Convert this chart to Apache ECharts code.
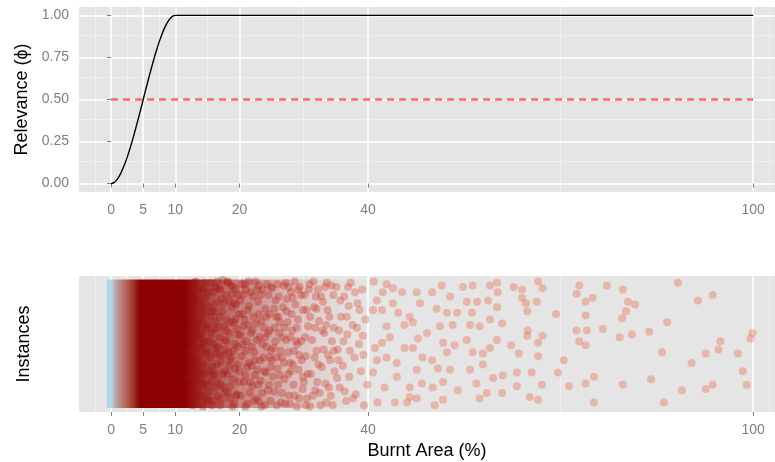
<!DOCTYPE html>
<html>
<head>
<meta charset="utf-8">
<script src="https://cdn.jsdelivr.net/npm/echarts@6/dist/echarts.min.js"></script>
<style>html,body{margin:0;padding:0;background:#fff}#c{width:775px;height:462px}</style>
</head>
<body>
<div id="c"></div>
<script>
// ---------------- data ----------------
const xTickValues = [0, 5, 10, 20, 40, 100];
const xMinorValues = [-2.5, 2.5, 7.5, 15, 30, 70, 102.5];
const yTickValues = [0, 0.25, 0.5, 0.75, 1];
const yMinorValues = [0.125, 0.375, 0.625, 0.875];

// relevance curve (phi)
const curveX = [0, 0.5, 1, 1.5, 2, 2.5, 3, 3.5, 4, 4.5, 5, 5.5, 6, 6.5, 7, 7.5, 8, 8.5, 9, 9.5, 10, 100];
const curveY = [0, 0.007, 0.028, 0.061, 0.104, 0.156, 0.216, 0.282, 0.352, 0.425, 0.5, 0.575, 0.648, 0.718, 0.784, 0.844, 0.896, 0.939, 0.972, 0.993, 1, 1];

// threshold line
const thresholdX = [0, 100];
const thresholdY = 0.5;

// dense overplotted region of instances: x positions and relative density
const bandX = [-0.65, 0.05, 0.8, 2.2, 3.6, 4.5, 11.5, 13, 15, 17, 19.5, 22, 25, 28, 32, 36, 40];
const bandDensity = [1, 1, 1, 1, 1, 1, 1, 0.9, 0.72, 0.6, 0.5, 0.4, 0.3, 0.2, 0.1, 0.04, 0];
const bandYRange = [0.03, 0.975];

// individual instances (burnt area %, jitter)
const instances = [
[12.1,0.93],[12.4,0.71],[12.2,0.45],[12.6,0.18],[12.9,0.86],[13.1,0.55],[12.8,0.32],[13.3,0.07],[13.5,0.64],[13.7,0.90],
[13.4,0.40],[13.9,0.24],[14.1,0.78],[14.3,0.50],[14.0,0.12],[14.6,0.95],[14.4,0.35],[14.8,0.62],[14.9,0.20],[12.3,0.60],
[12.7,0.05],[13.0,0.80],[13.6,0.15],[13.8,0.47],[14.2,0.68],[14.5,0.28],[14.7,0.84],[12.5,0.38],[13.2,0.96],[14.0,0.58],
[12.0,0.26],[12.9,0.67],[13.5,0.30],[14.3,0.04],[14.8,0.43],[13.1,0.22],[12.4,0.84],[13.9,0.73],[14.6,0.52],[12.8,0.10],
[15.1,0.88],[15.3,0.52],[15.2,0.15],[15.6,0.70],[15.8,0.33],[15.5,0.95],[16.0,0.08],[16.1,0.61],[16.3,0.43],[16.4,0.80],
[16.6,0.22],[16.8,0.91],[16.9,0.55],[17.1,0.37],[17.0,0.05],[17.3,0.74],[17.5,0.18],[17.6,0.63],[17.8,0.46],[17.9,0.86],
[18.1,0.28],[18.2,0.96],[18.4,0.58],[18.5,0.10],[18.7,0.40],[18.8,0.77],[19.0,0.24],[19.1,0.66],[19.3,0.50],[19.4,0.90],
[19.6,0.13],[19.7,0.35],[19.9,0.72],[15.4,0.40],[15.9,0.27],[16.2,0.92],[16.7,0.48],[17.2,0.83],[17.7,0.30],[18.0,0.68],
[18.6,0.19],[19.2,0.06],[19.8,0.57],[15.0,0.64],[15.7,0.05],[16.5,0.35],[17.4,0.97],[18.3,0.44],[18.9,0.87],[19.5,0.79],
[15.2,0.78],[16.0,0.74],[16.6,0.12],[17.7,0.53],[18.4,0.34],[19.0,0.45],[19.6,0.61],[15.9,0.50],[17.1,0.20],[18.7,0.93],
[12.2,0.15],[12.6,0.52],[12.9,0.95],[13.3,0.36],[13.6,0.82],[14.0,0.30],[14.4,0.90],[14.9,0.08],[15.3,0.30],[15.6,0.58],
[15.9,0.88],[16.2,0.18],[16.4,0.47],[16.9,0.70],[17.2,0.10],[17.5,0.42],[17.9,0.60],[18.2,0.14],[18.6,0.66],[19.0,0.92],
[19.3,0.32],[19.7,0.48],[15.1,0.10],[16.1,0.28],[17.0,0.90],[18.0,0.52],[19.1,0.80],[13.0,0.62],[14.7,0.73],[16.7,0.62],
[17.6,0.80],[18.9,0.04],[19.9,0.22],[15.8,0.74],[16.5,0.96],[18.4,0.82],[19.4,0.68],[17.3,0.28],[15.5,0.22],[16.9,0.42],
[12.5,0.75],[13.8,0.55],[14.2,0.20],[15.0,0.45],[16.3,0.66],[17.8,0.15],[18.5,0.38],[19.5,0.12],[18.1,0.95],[19.8,0.86],
[20.1,0.82],[20.3,0.41],[20.2,0.12],[20.6,0.63],[20.8,0.94],[20.9,0.27],[21.1,0.52],[21.3,0.75],[21.2,0.06],[21.5,0.36],
[21.7,0.88],[21.8,0.58],[22.0,0.19],[22.2,0.70],[22.3,0.44],[22.5,0.96],[22.6,0.10],[22.8,0.31],[22.9,0.81],[23.1,0.55],
[23.3,0.23],[23.4,0.67],[23.6,0.90],[23.7,0.40],[23.9,0.05],[24.0,0.76],[24.2,0.48],[24.4,0.16],[24.5,0.86],[24.7,0.60],
[24.9,0.33],[20.5,0.50],[21.0,0.90],[21.6,0.14],[22.1,0.85],[22.7,0.53],[23.2,0.38],[23.8,0.62],[24.3,0.94],[24.8,0.08],
[20.4,0.72],[20.7,0.22],[21.4,0.64],[21.9,0.34],[22.4,0.27],[23.0,0.93],[23.5,0.14],[24.1,0.29],[24.6,0.72],[20.0,0.30],
[21.0,0.45],[22.0,0.60],[23.0,0.08],[24.0,0.55],[24.9,0.45],
[20.2,0.56],[20.5,0.86],[20.9,0.04],[21.2,0.33],[21.5,0.78],[21.9,0.48],[22.2,0.08],[22.6,0.65],[22.9,0.20],[23.3,0.86],
[23.6,0.50],[23.9,0.30],[24.2,0.70],[24.6,0.20],[24.9,0.92],[20.8,0.68],[21.4,0.96],[22.4,0.38],[23.4,0.04],[24.4,0.58],
[21.7,0.22],[23.0,0.72],[24.7,0.40],[20.3,0.94],[22.7,0.90],
[25.1,0.91],[25.3,0.47],[25.4,0.15],[25.7,0.70],[25.9,0.32],[26.1,0.85],[26.2,0.58],[26.5,0.07],[26.6,0.40],[26.8,0.77],
[27.0,0.24],[27.2,0.95],[27.3,0.53],[27.5,0.66],[27.7,0.12],[27.9,0.36],[28.0,0.88],[28.2,0.60],[28.4,0.20],[28.5,0.45],
[28.7,0.79],[28.9,0.04],[29.1,0.68],[29.2,0.31],[29.4,0.92],[29.6,0.52],[29.8,0.17],[25.5,0.62],[25.8,0.05],[26.3,0.27],
[26.9,0.93],[27.6,0.44],[28.1,0.72],[28.6,0.96],[29.3,0.10],[29.9,0.75],[25.0,0.38],[26.0,0.70],[26.7,0.55],[27.4,0.83],
[28.3,0.35],[29.0,0.50],[29.7,0.38],[25.6,0.82],[27.8,0.06],
[25.2,0.26],[25.6,0.52],[25.9,0.94],[26.3,0.66],[26.6,0.14],[26.9,0.36],[27.3,0.74],[27.6,0.28],[27.9,0.55],[28.3,0.84],
[28.6,0.12],[28.9,0.62],[29.3,0.42],[29.6,0.86],[29.9,0.26],[25.4,0.76],[26.4,0.45],[27.1,0.06],[28.0,0.30],[29.1,0.90],
[26.0,0.20],[27.0,0.62],[28.8,0.52],[25.8,0.40],[27.7,0.92],
[30.1,0.86],[30.3,0.41],[30.5,0.10],[30.7,0.63],[30.9,0.94],[31.1,0.28],[31.3,0.53],[31.6,0.77],[31.8,0.16],[32.0,0.45],
[32.2,0.90],[32.4,0.67],[32.6,0.05],[32.8,0.33],[33.0,0.81],[33.2,0.58],[33.4,0.21],[33.6,0.95],[33.8,0.42],[34.0,0.70],
[34.2,0.12],[34.4,0.52],[34.6,0.86],[34.8,0.30],[30.4,0.75],[31.0,0.04],[31.5,0.96],[32.1,0.22],[32.9,0.60],[33.5,0.07],
[34.1,0.38],[34.7,0.62],[30.0,0.22],[31.9,0.85],[33.7,0.75],
[30.2,0.55],[30.6,0.28],[31.0,0.70],[31.4,0.12],[31.8,0.62],[32.3,0.35],[32.7,0.85],[33.1,0.46],[33.5,0.64],[33.9,0.18],
[34.3,0.93],[34.7,0.45],[35.2,0.25],[35.7,0.82],[36.2,0.52],[36.7,0.70],[37.2,0.45],[37.7,0.10],[38.3,0.62],[30.8,0.90],
[31.7,0.40],[32.5,0.14],[33.3,0.92],[34.5,0.05],[35.4,0.38],[36.9,0.92],[38.7,0.75],[39.2,0.56],[30.3,0.05],[32.0,0.76],
[35.1,0.92],[35.3,0.46],[35.6,0.18],[35.8,0.70],[36.1,0.34],[36.3,0.85],[36.6,0.08],[36.8,0.57],[37.1,0.26],[37.3,0.95],
[37.6,0.64],[37.9,0.40],[38.1,0.13],[38.4,0.80],[38.6,0.50],[38.9,0.30],[39.1,0.90],[39.4,0.05],[39.6,0.68],[39.9,0.20],
[35.5,0.60],[36.4,0.15],[37.0,0.78],[38.0,0.88],[39.3,0.42],
[40.9,0.96],[42.9,0.94],[42.3,0.88],[43.9,0.91],[41.4,0.82],[40.8,0.75],[42.2,0.75],[43.9,0.80],[45.3,0.88],[44.7,0.73],
[45.7,0.64],[42.9,0.63],[43.4,0.55],[42.2,0.51],[41.1,0.47],[41.4,0.38],[42.9,0.40],[44.5,0.36],[45.7,0.47],[40.8,0.29],
[42.6,0.18],[44.5,0.26],[46.5,0.18],[41.5,0.07],[44.2,0.07],[46.1,0.07],[46.5,0.11],[47.6,0.88],[48.1,0.80],[46.5,0.70],
[47.0,0.66],[47.8,0.54],[49.2,0.58],[47.0,0.47],[48.5,0.40],[50.0,0.38],[47.6,0.31],[48.4,0.21],[50.1,0.18],[47.6,0.10],
[50.0,0.88],[51.5,0.93],[52.8,0.85],[50.7,0.76],[52.3,0.73],[53.9,0.73],[51.2,0.63],[53.2,0.64],[51.7,0.51],[53.5,0.49],
[52.3,0.44],[50.9,0.32],[52.8,0.31],[51.7,0.22],[54.0,0.16],[50.4,0.05],[51.7,0.09],[54.8,0.92],[56.3,0.93],[55.4,0.81],
[57.0,0.81],[56.2,0.73],[55.9,0.64],[57.4,0.63],[55.4,0.53],[56.3,0.44],[57.9,0.43],[55.9,0.31],[57.9,0.35],[56.9,0.21],
[58.5,0.14],[57.4,0.10],[59.0,0.93],[60.1,0.95],[60.2,0.88],[58.7,0.82],[60.1,0.77],[59.0,0.68],[60.9,0.65],[60.1,0.53],
[59.0,0.47],[61.0,0.27],[59.5,0.25],[60.9,0.14],
[62.7,0.92],[64.0,0.90],[66.5,0.96],[67.2,0.91],[64.0,0.84],[64.6,0.80],[66.3,0.81],[64.8,0.74],[69.3,0.72],[64.9,0.60],
[64.8,0.56],[67.2,0.56],[66.5,0.51],[62.3,0.49],[63.5,0.43],[66.5,0.41],[70.5,0.38],[63.2,0.29],[65.5,0.29],[69.6,0.29],
[63.2,0.19],[67.1,0.20],[65.2,0.11],[66.5,0.09],[72.9,0.93],[72.5,0.87],[73.9,0.81],[75.0,0.84],[77.2,0.93],[79.7,0.90],
[80.5,0.81],[81.6,0.79],[80.2,0.74],[79.6,0.69],[73.9,0.71],[72.5,0.60],[74.1,0.60],[76.6,0.61],[72.9,0.52],[73.9,0.49],
[79.2,0.55],[81.1,0.57],[83.8,0.59],[86.6,0.66],[88.3,0.95],[91.4,0.82],[93.7,0.86],[99.9,0.58],[99.6,0.54],[94.9,0.52],
[85.8,0.44],[92.6,0.43],[94.6,0.46],[97.6,0.43],[90.4,0.36],[98.4,0.30],[75.2,0.26],[71.3,0.19],[73.9,0.21],[79.7,0.20],
[84.1,0.24],[88.9,0.16],[92.6,0.17],[93.7,0.20],[99.0,0.20],[75.2,0.07],[86.1,0.07]
];

// ---------------- styling helpers ----------------
const FONT = 'Liberation Sans, Arial, sans-serif';
const GREY_TXT = '#7F7F7F';
const PANEL = '#E5E5E5';
const palette = [[-1,[173,216,230]],[0.05,[173,216,230]],[0.8,[190,160,160]],[2.2,[180,105,95]],[3.6,[160,45,35]],[4.5,[139,0,0]],[12,[139,0,0]],[20,[158,16,10]],[45,[185,35,20]]];
function lerpColor(stops, x) {
  if (x <= stops[0][0]) return stops[0][1];
  for (let i = 1; i < stops.length; i++) {
    if (x <= stops[i][0]) {
      const a = stops[i-1], b = stops[i];
      const t = (x - a[0]) / (b[0] - a[0]);
      return a[1].map((v, k) => Math.round(v + (b[1][k] - v) * t));
    }
  }
  return stops[stops.length-1][1];
}
const pointPalette = [[15,[160,18,10]],[30,[200,50,35]],[45,[235,90,55]]];

function gridLines(values, axisKey, color, width) {
  return values.map(v => ({ [axisKey]: v, lineStyle: { color: color, width: width, type: 'solid' } }));
}

const chart = echarts.init(document.getElementById('c'), null, { renderer: 'canvas' });

const commonX = (gi, showName) => ({
  gridIndex: gi, type: 'value', min: -5, max: 103.4,
  axisLine: { show: false },
  axisTick: { show: true, customValues: xTickValues, length: 4, lineStyle: { color: GREY_TXT, width: 1 } },
  axisLabel: { customValues: xTickValues, color: GREY_TXT, fontSize: 14, margin: 11, fontFamily: FONT },
  splitLine: { show: false },
  name: showName ? 'Burnt Area (%)' : '',
  nameLocation: 'middle', nameGap: 30,
  nameTextStyle: { color: '#000', fontSize: 18, fontFamily: FONT }
});

const option = {
  animation: false,
  backgroundColor: '#FFFFFF',
  grid: [
    { left: 79, right: 0, top: 7, bottom: 270, show: true, backgroundColor: PANEL, borderWidth: 0 },
    { left: 79, right: 0, top: 276, bottom: 50, show: true, backgroundColor: PANEL, borderWidth: 0 }
  ],
  xAxis: [commonX(0, false), commonX(1, true)],
  yAxis: [
    {
      gridIndex: 0, type: 'value', min: -0.05, max: 1.05,
      axisLine: { show: false },
      axisTick: { show: true, customValues: yTickValues, length: 4, lineStyle: { color: GREY_TXT, width: 1 } },
      axisLabel: { customValues: yTickValues, color: GREY_TXT, fontSize: 14, margin: 10, fontFamily: FONT,
                   formatter: v => v.toFixed(2) },
      splitLine: { show: false },
      name: 'Relevance (ϕ)', nameLocation: 'middle', nameGap: 46,
      nameTextStyle: { color: '#000', fontSize: 18, fontFamily: FONT }
    },
    {
      gridIndex: 1, type: 'value', min: 0, max: 1,
      axisLine: { show: false }, axisTick: { show: false }, axisLabel: { show: false },
      splitLine: { show: false },
      name: 'Instances', nameLocation: 'middle', nameGap: 46,
      nameTextStyle: { color: '#000', fontSize: 18, fontFamily: FONT }
    }
  ],
  series: [
    {
      type: 'line', xAxisIndex: 0, yAxisIndex: 0, data: [], silent: true, z: 0,
      markLine: {
        silent: true, symbol: ['none', 'none'], label: { show: false }, z: 0, animation: false,
        data: [].concat(
          gridLines(xMinorValues, 'xAxis', '#F2F2F2', 0.8),
          gridLines(yMinorValues, 'yAxis', '#F2F2F2', 0.8),
          gridLines(xTickValues, 'xAxis', '#FFFFFF', 1.6),
          gridLines(yTickValues, 'yAxis', '#FFFFFF', 1.6)
        )
      }
    },
    {
      type: 'line', xAxisIndex: 1, yAxisIndex: 1, data: [], silent: true, z: 0,
      markLine: {
        silent: true, symbol: ['none', 'none'], label: { show: false }, z: 0, animation: false,
        data: [].concat(
          gridLines(xMinorValues, 'xAxis', '#F2F2F2', 0.8),
          gridLines(xTickValues, 'xAxis', '#FFFFFF', 1.6)
        )
      }
    },
    {
      type: 'line', xAxisIndex: 0, yAxisIndex: 0, z: 4,
      data: curveX.map((x, i) => [x, curveY[i]]),
      showSymbol: false, smooth: 0.3,
      lineStyle: { color: '#000000', width: 1.4 }
    },
    {
      type: 'line', xAxisIndex: 0, yAxisIndex: 0, z: 3,
      data: thresholdX.map(x => [x, thresholdY]),
      showSymbol: false,
      lineStyle: { color: '#FF6666', width: 2.6, type: [7, 5] }
    },
    {
      type: 'custom', xAxisIndex: 1, yAxisIndex: 1, z: 2, silent: true,
      data: [[bandX[0], bandX[bandX.length - 1]]],
      encode: { x: [0, 1] },
      renderItem: function (params, api) {
        const x0 = api.coord([api.value(0), bandYRange[1]]);
        const x1 = api.coord([api.value(1), bandYRange[0]]);
        const w = x1[0] - x0[0];
        const stops = bandX.map((x, i) => {
          const px = api.coord([x, 0])[0];
          const c = lerpColor(palette, x);
          return { offset: Math.max(0, Math.min(1, (px - x0[0]) / w)), color: 'rgba(' + c.join(',') + ',' + bandDensity[i] + ')' };
        });
        return {
          type: 'rect',
          shape: { x: x0[0], y: x0[1], width: w, height: x1[1] - x0[1] },
          style: { fill: new echarts.graphic.LinearGradient(0, 0, 1, 0, stops) }
        };
      }
    },
    {
      type: 'scatter', xAxisIndex: 1, yAxisIndex: 1, z: 3,
      data: instances, symbol: 'circle', symbolSize: 8,
      itemStyle: {
        color: function (p) {
          const c = lerpColor(pointPalette, p.data[0]);
          return 'rgba(' + c.join(',') + ',0.42)';
        }
      }
    }
  ]
};
chart.setOption(option);
</script>
</body>
</html>
